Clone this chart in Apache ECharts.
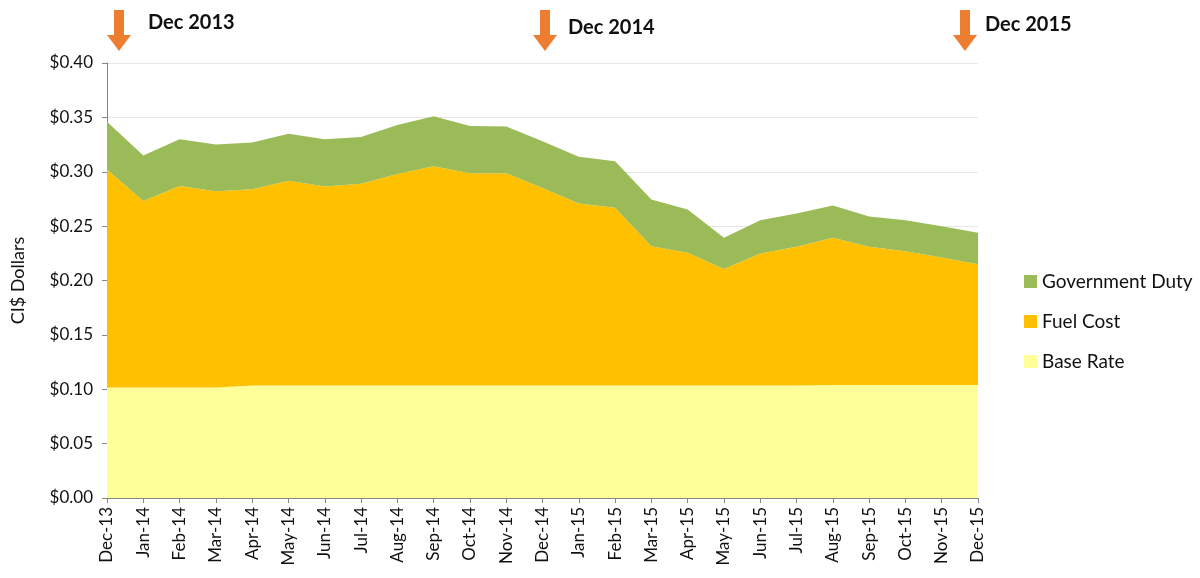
<!DOCTYPE html>
<html>
<head>
<meta charset="utf-8">
<script src="https://cdn.jsdelivr.net/npm/echarts@6/dist/echarts.min.js"></script>
<style>
  html, body { margin: 0; padding: 0; background: #fff; }
  #chart { width: 1200px; height: 578px; }
</style>
</head>
<body>
<div id="chart"></div>
<script>
const months = ['Dec-13', 'Jan-14', 'Feb-14', 'Mar-14', 'Apr-14', 'May-14', 'Jun-14', 'Jul-14', 'Aug-14',
  'Sep-14', 'Oct-14', 'Nov-14', 'Dec-14', 'Jan-15', 'Feb-15', 'Mar-15', 'Apr-15', 'May-15', 'Jun-15',
  'Jul-15', 'Aug-15', 'Sep-15', 'Oct-15', 'Nov-15', 'Dec-15']

const baseRate = [0.1015, 0.1015, 0.1015, 0.1015, 0.1035, 0.1035, 0.1035, 0.1035, 0.1035, 0.1035, 0.1035,
  0.1035, 0.1035, 0.1035, 0.1035, 0.1035, 0.1035, 0.1035, 0.1035, 0.1035, 0.104, 0.104, 0.104, 0.104, 0.104]

const fuelCost = [0.2005, 0.1715, 0.1855, 0.1805, 0.1805, 0.1882, 0.183, 0.1855, 0.1945, 0.2015, 0.1952,
  0.1952, 0.1815, 0.1673, 0.1635, 0.1281, 0.122, 0.107, 0.1214, 0.1275, 0.1353, 0.127, 0.123, 0.1172, 0.111]

const govDuty = [0.044, 0.042, 0.043, 0.043, 0.043, 0.0433, 0.0435, 0.043, 0.045, 0.046, 0.0433, 0.0429,
  0.043, 0.0429, 0.0427, 0.0429, 0.0398, 0.0288, 0.0306, 0.0306, 0.0297, 0.0279, 0.0285, 0.0288, 0.0289]

const markers = [
  { label: 'Dec 2013', arrowX: 119, textX: 148, textY: 13 },
  { label: 'Dec 2014', arrowX: 545, textX: 568, textY: 18 },
  { label: 'Dec 2015', arrowX: 965, textX: 985, textY: 15 }
]

const font = 'Lato, "Open Sans", sans-serif'
const chart = echarts.init(document.getElementById('chart'))

// orange down arrows + bold year labels above the plot
const graphics = []
markers.forEach(m => {
  graphics.push({
    type: 'polygon',
    shape: {
      points: [[m.arrowX - 5, 10], [m.arrowX + 5, 10], [m.arrowX + 5, 35], [m.arrowX + 12, 35],
        [m.arrowX, 51], [m.arrowX - 12, 35], [m.arrowX - 5, 35]]
    },
    style: { fill: '#ED7D31' }
  })
  graphics.push({
    type: 'text',
    left: m.textX,
    top: m.textY,
    style: { text: m.label, font: 'bold 20px ' + font, fill: '#111' }
  })
})

function area(name, data, color) {
  return {
    name,
    type: 'line',
    stack: 'total',
    data,
    symbol: 'none',
    lineStyle: { width: 0 },
    areaStyle: { color, opacity: 1 },
    itemStyle: { color },
    emphasis: { disabled: true }
  }
}

chart.setOption({
  animation: false,
  textStyle: { fontFamily: font },
  grid: { left: 107, right: 222, top: 63, bottom: 80 },
  legend: {
    orient: 'vertical',
    left: 1019,
    top: 267,
    itemWidth: 13,
    itemHeight: 13,
    itemGap: 21,
    icon: 'rect',
    textStyle: { fontSize: 19, color: '#111', fontFamily: font },
    data: ['Government Duty', 'Fuel Cost', 'Base Rate']
  },
  xAxis: {
    type: 'category',
    boundaryGap: false,
    data: months,
    axisLine: { lineStyle: { color: '#868686' } },
    axisTick: { show: true, length: 5, lineStyle: { color: '#868686' } },
    axisLabel: { rotate: 90, interval: 0, fontSize: 17, color: '#111', margin: 9 }
  },
  yAxis: {
    type: 'value',
    min: 0,
    max: 0.4,
    interval: 0.05,
    name: 'CI$ Dollars',
    nameLocation: 'middle',
    nameGap: 80,
    nameTextStyle: { fontSize: 18, color: '#111' },
    axisLine: { show: true, lineStyle: { color: '#868686' } },
    axisTick: { show: true, length: 5, lineStyle: { color: '#868686' } },
    axisLabel: { fontSize: 17, color: '#111', margin: 14, formatter: v => '$' + v.toFixed(2) },
    splitLine: { lineStyle: { color: '#E6E6E6' } }
  },
  series: [
    area('Base Rate', baseRate, '#FFFF99'),
    area('Fuel Cost', fuelCost, '#FFC000'),
    area('Government Duty', govDuty, '#9BBB59')
  ],
  graphic: graphics
})
</script>
</body>
</html>
